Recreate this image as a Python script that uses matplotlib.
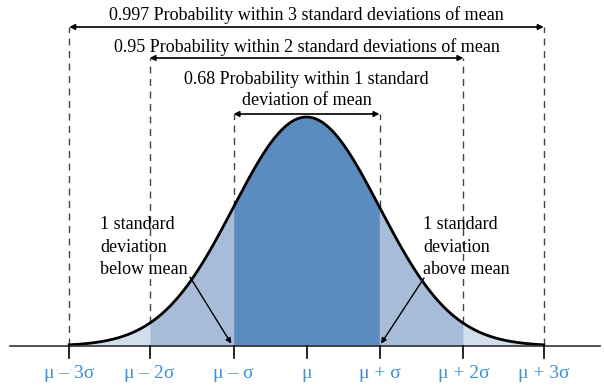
import numpy as np
import matplotlib.pyplot as plt

# boundary positions (in units of the curve's sigma) as drawn in the figure
bounds = [-3.25, -2.15, -1.0, 0.0, 1.0, 2.15, 3.25]
tick_labels = ['μ – 3σ', 'μ – 2σ', 'μ – σ', 'μ', 'μ + σ', 'μ + 2σ', 'μ + 3σ']
probs = ['0.68', '0.95', '0.997']
band_colors = ['#5b8cbf', '#a7bcd8', '#d3deec']

plt.rcParams['font.family'] = ['Liberation Serif', 'DejaVu Serif']

fig = plt.figure(figsize=(6.04, 3.85), dpi=100)
ax = fig.add_axes([0, 0, 1, 1])
ax.set_xlim(-306.5 / 73, (604 - 306.5) / 73)
ax.set_ylim(-39 / 229, 346 / 229)
ax.axis('off')

def pdf(x):
    return np.exp(-x ** 2 / 2)

# shaded bands
x = np.linspace(bounds[0], bounds[-1], 800)
for k in range(3):
    lo, hi = bounds[2 - k], bounds[4 + k]
    m = (x >= lo) & (x <= hi)
    ax.fill_between(x[m], 0, pdf(x[m]), color=band_colors[k], lw=0, zorder=3 - k)

ax.plot(x, pdf(x), color='black', lw=2, zorder=5)
ax.plot([-4.06, 4.02], [0, 0], color='#333333', lw=1.2, zorder=6)

# ticks and labels
for b, lab in zip(bounds, tick_labels):
    ax.plot([b, b], [0, -12 / 229], color='black', lw=1.2, zorder=6)
    ax.text(b, -28 / 229, lab, ha='center', va='center', fontsize=14,
            color='#3d8fd6')

# range arrows, dashed lines and captions
arrow_y = [(346 - 114) / 229, (346 - 58) / 229, (346 - 27) / 229]
for k in range(3):
    lo, hi = bounds[2 - k], bounds[4 + k]
    y = arrow_y[k]
    for b in (lo, hi):
        ax.plot([b, b], [pdf(b), y], color='#444444', lw=1, ls=(0, (5, 4)), zorder=1)
    ax.annotate('', xy=(lo, y), xytext=(hi, y),
                arrowprops=dict(arrowstyle='<|-|>', color='black', lw=1.2,
                                mutation_scale=8, shrinkA=0, shrinkB=0))

ax.text(0, (346 - 15) / 229, probs[2] + ' Probability within 3 standard deviations of mean',
        ha='center', va='center', fontsize=13)
ax.text(0, (346 - 47) / 229, probs[1] + ' Probability within 2 standard deviations of mean',
        ha='center', va='center', fontsize=13)
ax.text(0, (346 - 90) / 229, probs[0] + ' Probability within 1 standard\ndeviation of mean',
        ha='center', va='center', fontsize=13, linespacing=1.3)

# side annotations
ax.text((100 - 306.5) / 73, (346 - 247) / 229, '1 standard\ndeviation\nbelow mean',
        ha='left', va='center', fontsize=13, linespacing=1.4)
ax.annotate('', xy=(bounds[2] - 0.03, 0.01), xytext=((190 - 306.5) / 73, (346 - 277) / 229),
            arrowprops=dict(arrowstyle='-|>', color='black', lw=1, mutation_scale=8,
                            shrinkA=0, shrinkB=0), zorder=7)
ax.text((423 - 306.5) / 73, (346 - 247) / 229, '1 standard\ndeviation\nabove mean',
        ha='left', va='center', fontsize=13, linespacing=1.4)
ax.annotate('', xy=(bounds[4] + 0.02, 0.01), xytext=((424 - 306.5) / 73, (346 - 278) / 229),
            arrowprops=dict(arrowstyle='-|>', color='black', lw=1, mutation_scale=8,
                            shrinkA=0, shrinkB=0), zorder=7)

fig.savefig('out.png', dpi=100)
